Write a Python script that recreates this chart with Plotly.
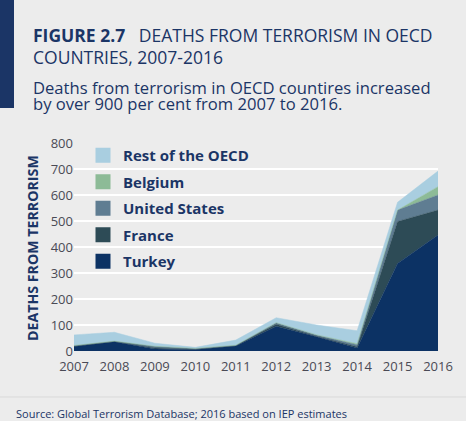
import plotly.graph_objects as go

years = [2007, 2008, 2009, 2010, 2011, 2012, 2013, 2014, 2015, 2016]

turkey = [17, 36, 8, 6, 19, 95, 55, 12, 337, 446]
france = [2, 1, 4, 1, 2, 8, 2, 4, 161, 96]
united_states = [2, 1, 6, 3, 1, 6, 5, 8, 44, 58]
belgium = [0, 0, 0, 0, 0, 0, 0, 4, 0, 32]
rest_oecd = [41, 34, 12, 4, 20, 19, 38, 50, 30, 60]

series = [
    ("Turkey", turkey, "#0c3264"),
    ("France", france, "#2d4b56"),
    ("United States", united_states, "#5f7d92"),
    ("Belgium", belgium, "#8dbb97"),
    ("Rest of the OECD", rest_oecd, "#a9cee0"),
]

NAVY = "#1b3566"
BG = "#ececec"
FONT = "Open Sans"

# plot area in pixels (466x421 page)
L, R, T, B = 74, 438, 143, 351


def px_x(x):
    return (x - L) / (R - L)


def px_y(y):
    return (B - y) / (B - T)


fig = go.Figure()

for i, (name, vals, color) in enumerate(series):
    fig.add_trace(go.Scatter(
        x=years, y=vals, name=name, stackgroup="one",
        mode="lines", line=dict(width=0.5, color=color),
        fillcolor=color, showlegend=False, hoverinfo="x+y+name",
    ))
    # square swatch for the legend only, top entry = top layer
    fig.add_trace(go.Scatter(
        x=[None], y=[None], name=name, mode="markers", legendgroup=name,
        legendrank=100 - i,
        marker=dict(symbol="square", size=15, color=color),
    ))

fig.update_layout(
    width=466, height=421,
    margin=dict(l=L, r=466 - R, t=T, b=421 - B),
    paper_bgcolor=BG, plot_bgcolor=BG,
    font=dict(family=FONT, color=NAVY),
    legend=dict(
        x=px_x(83), y=px_y(139), xanchor="left", yanchor="top",
        bgcolor="rgba(0,0,0,0)", traceorder="grouped",
        tracegroupgap=4, itemwidth=30,
        font=dict(family=FONT, size=15, color=NAVY, weight="bold"),
    ),
    xaxis=dict(
        range=[2007, 2016], tickvals=years, showgrid=False, zeroline=False,
        showline=False, ticks="", ticklabelstandoff=6,
        tickfont=dict(size=13, color="#4a4a55"),
    ),
    yaxis=dict(
        range=[0, 800], dtick=100, showgrid=True, gridcolor="white",
        gridwidth=2, zeroline=False, showline=False, ticks="",
        tickfont=dict(size=13, color="#4a4a55"),
    ),
)

# dark bar at top left
fig.add_shape(type="rect", xref="paper", yref="paper",
              x0=px_x(0), x1=px_x(14), y0=px_y(108), y1=px_y(0),
              fillcolor=NAVY, line_width=0, layer="above")
# separator above the source line
fig.add_shape(type="line", xref="paper", yref="paper",
              x0=px_x(0), x1=px_x(466), y0=px_y(397), y1=px_y(397),
              line=dict(color="#d9d9d9", width=1))

texts = [
    ("<b>FIGURE 2.7</b>   DEATHS FROM TERRORISM IN OECD", 31, 35, 17.5),
    ("COUNTRIES, 2007-2016", 31, 57, 17.5),
    ("Deaths from terrorism in OECD countires increased", 31, 87, 16.6),
    ("by over 900 per cent from 2007 to 2016.", 31, 103, 16.6),
    ("Source: Global Terrorism Database; 2016 based on IEP estimates", 14, 413, 11),
]
for txt, x, y, size in texts:
    fig.add_annotation(
        text=txt, xref="paper", yref="paper", x=px_x(x), y=px_y(y),
        xanchor="left", yanchor="middle", showarrow=False,
        font=dict(family=FONT, size=size, color=NAVY),
    )

fig.add_annotation(
    text="<b>DEATHS FROM TERRORISM</b>", xref="paper", yref="paper",
    x=px_x(32), y=px_y(248), textangle=-90, showarrow=False,
    xanchor="center", yanchor="middle",
    font=dict(family=FONT, size=14.2, color=NAVY),
)

fig.write_html("out.html", config={"displayModeBar": False},
               post_script="document.body.style.margin='0';")
